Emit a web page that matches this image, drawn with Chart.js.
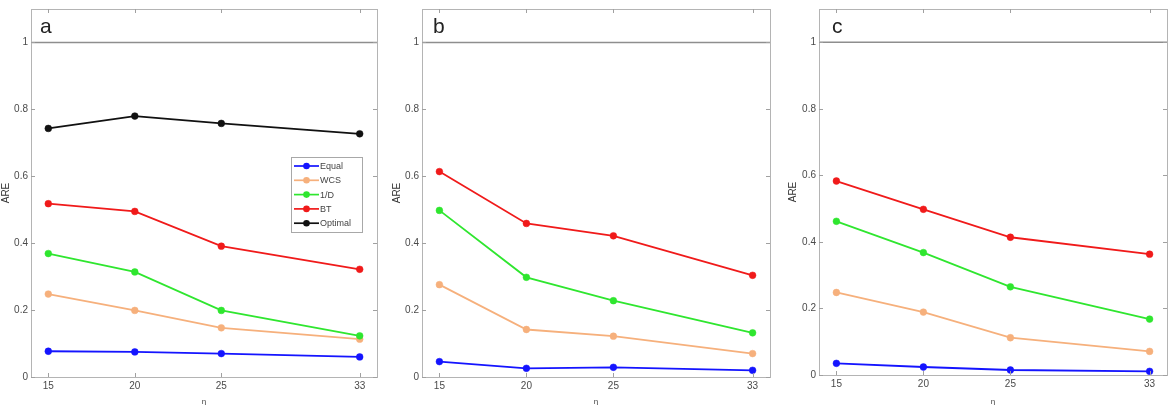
<!DOCTYPE html>
<html><head><meta charset="utf-8">
<script src="https://cdn.jsdelivr.net/npm/chart.js@4/dist/chart.umd.min.js"></script>
<style>
html,body{margin:0;padding:0;background:#fff;overflow:hidden;width:1174px;height:405px;}
canvas{position:absolute;top:0;}
</style></head><body>
<canvas id="pa" width="390" height="410" style="left:0px"></canvas>
<canvas id="pb" width="390" height="410" style="left:390px"></canvas>
<canvas id="pc" width="394" height="410" style="left:780px"></canvas>
<script>
// ---- data ----
const etaValues = [15, 20, 25, 33];
const yTickValues = [0, 0.2, 0.4, 0.6, 0.8, 1];
const seriesNames = ['Equal', 'WCS', '1/D', 'BT', 'Optimal'];
const panelLabels = ['a', 'b', 'c'];
const perfectARE = 1;
const xTitle = 'η';
const yTitle = 'ARE';

// panel a
const aEqual   = [0.077, 0.075, 0.070, 0.060];
const aWCS     = [0.248, 0.199, 0.147, 0.113];
const aInvD    = [0.369, 0.314, 0.199, 0.123];
const aBT      = [0.518, 0.495, 0.391, 0.322];
const aOptimal = [0.743, 0.780, 0.758, 0.727];
// panel b
const bEqual = [0.046, 0.026, 0.029, 0.020];
const bWCS   = [0.276, 0.142, 0.122, 0.070];
const bInvD  = [0.498, 0.298, 0.228, 0.132];
const bBT    = [0.614, 0.459, 0.422, 0.304];
// panel c
const cEqual = [0.035, 0.024, 0.015, 0.011];
const cWCS   = [0.248, 0.189, 0.112, 0.071];
const cInvD  = [0.462, 0.368, 0.265, 0.168];
const cBT    = [0.583, 0.498, 0.414, 0.363];

const seriesColors = ['#1414ff', '#f6b07c', '#2fe62f', '#f01a1a', '#111111'];
const FONT = '"Liberation Sans", Arial, Helvetica, sans-serif';

function makeDatasets(seriesList) {
  return seriesList.map((vals, i) => ({
    label: seriesNames[i],
    data: etaValues.map((e, k) => ({x: e, y: vals[k]})),
    borderColor: seriesColors[i],
    backgroundColor: seriesColors[i],
    pointBackgroundColor: seriesColors[i],
    pointBorderColor: seriesColors[i],
    borderWidth: 1.8,
    pointRadius: 3.4,
    pointBorderWidth: 0.5,
    tension: 0,
    order: 5 - i
  }));
}

const matlabPlugin = {
  id: 'matlabFrame',
  beforeDatasetsDraw(chart) {
    const {ctx, chartArea: ca} = chart;
    const y = chart.scales.y;
    const yr = y.getPixelForValue(perfectARE);
    ctx.save();
    ctx.strokeStyle = '#8e8e8e';
    ctx.lineWidth = 1.5;
    ctx.beginPath(); ctx.moveTo(ca.left, yr); ctx.lineTo(ca.right, yr); ctx.stroke();
    ctx.restore();
  },
  afterDraw(chart, args, opts) {
    const {ctx, chartArea: ca} = chart;
    const x = chart.scales.x, y = chart.scales.y;
    ctx.save();
    // frame
    ctx.strokeStyle = '#b4b4b4';
    ctx.lineWidth = 1;
    ctx.strokeRect(Math.round(ca.left) + 0.5, Math.round(ca.top) + 0.5,
                   Math.round(ca.right - ca.left), Math.round(ca.bottom - ca.top));
    // inward ticks
    ctx.strokeStyle = '#a0a0a0';
    ctx.beginPath();
    const tl = 4;
    x.ticks.forEach(t => {
      const px = Math.round(x.getPixelForValue(t.value)) + 0.5;
      ctx.moveTo(px, ca.bottom); ctx.lineTo(px, ca.bottom - tl);
      ctx.moveTo(px, ca.top); ctx.lineTo(px, ca.top + tl);
    });
    y.ticks.forEach(t => {
      const py = Math.round(y.getPixelForValue(t.value)) + 0.5;
      ctx.moveTo(ca.left, py); ctx.lineTo(ca.left + tl, py);
      ctx.moveTo(ca.right, py); ctx.lineTo(ca.right - tl, py);
    });
    ctx.stroke();
    // panel label
    ctx.fillStyle = '#222';
    ctx.font = '21px ' + FONT;
    ctx.textBaseline = 'alphabetic';
    ctx.textAlign = 'left';
    ctx.fillText(opts.label, ca.left + opts.labelDx, 33);
    // legend
    if (opts.legend) {
      const L = opts.legend;
      ctx.fillStyle = '#fff';
      ctx.fillRect(L.x, L.y, L.w, L.h);
      ctx.strokeStyle = '#a8a8a8';
      ctx.lineWidth = 1;
      ctx.strokeRect(L.x + 0.5, L.y + 0.5, L.w, L.h);
      ctx.font = '9px ' + FONT;
      ctx.textBaseline = 'middle';
      chart.data.datasets.forEach((ds, i) => {
        const cy = L.y + 9 + i * 14.3;
        ctx.strokeStyle = ds.borderColor;
        ctx.lineWidth = 1.7;
        ctx.beginPath(); ctx.moveTo(L.x + 3, cy); ctx.lineTo(L.x + 28, cy); ctx.stroke();
        ctx.fillStyle = ds.borderColor;
        ctx.beginPath(); ctx.arc(L.x + 15.5, cy, 3.3, 0, Math.PI * 2); ctx.fill();
        ctx.fillStyle = '#444';
        ctx.fillText(ds.label, L.x + 29, cy + 0.5);
      });
    }
    ctx.restore();
  }
};

function makeChart(id, seriesList, cfg) {
  return new Chart(document.getElementById(id), {
    type: 'line',
    data: {datasets: makeDatasets(seriesList)},
    options: {
      responsive: false,
      animation: false,
      devicePixelRatio: 1,
      layout: {padding: {left: 0, right: cfg.padRight, top: 9, bottom: 0}},
      plugins: {
        legend: {display: false},
        tooltip: {enabled: false},
        matlabFrame: {label: cfg.label, labelDx: cfg.labelDx, legend: cfg.legend || null}
      },
      scales: {
        x: {
          type: 'linear', min: 14, max: 34,
          afterBuildTicks: s => { s.ticks = etaValues.map(v => ({value: v})); },
          afterFit: s => { s.height = cfg.xHeight; },
          grid: {display: false, drawTicks: false},
          border: {display: false},
          ticks: {color: '#4a4a4a', font: {size: 10, family: FONT}, padding: 3, maxRotation: 0,
                  callback: v => String(v)},
          title: {display: true, text: xTitle, color: '#444', font: {size: 8, family: FONT},
                  padding: {top: 0, bottom: 3}}
        },
        y: {
          type: 'linear', min: 0, max: 1.1,
          afterBuildTicks: s => { s.ticks = yTickValues.map(v => ({value: v})); },
          afterFit: s => { s.width = cfg.yWidth; },
          grid: {display: false, drawTicks: false},
          border: {display: false},
          ticks: {color: '#4a4a4a', font: {size: 10, family: FONT}, padding: 3,
                  callback: v => String(Math.round(v * 10) / 10)},
          title: {display: true, text: yTitle, color: '#333', font: {size: 10, family: FONT},
                  padding: {top: cfg.yTitlePad, bottom: 0}}
        }
      }
    },
    plugins: [matlabPlugin]
  });
}

makeChart('pa', [aEqual, aWCS, aInvD, aBT, aOptimal],
  {padRight: 13, yWidth: 31, xHeight: 33, yTitlePad: 0, label: panelLabels[0], labelDx: 9,
   legend: {x: 291, y: 157, w: 71, h: 75}});
makeChart('pb', [bEqual, bWCS, bInvD, bBT],
  {padRight: 10, yWidth: 32, xHeight: 33, yTitlePad: 1.2, label: panelLabels[1], labelDx: 11});
makeChart('pc', [cEqual, cWCS, cInvD, cBT],
  {padRight: 7, yWidth: 39, xHeight: 35, yTitlePad: 7.2, label: panelLabels[2], labelDx: 13});
</script>
</body></html>
